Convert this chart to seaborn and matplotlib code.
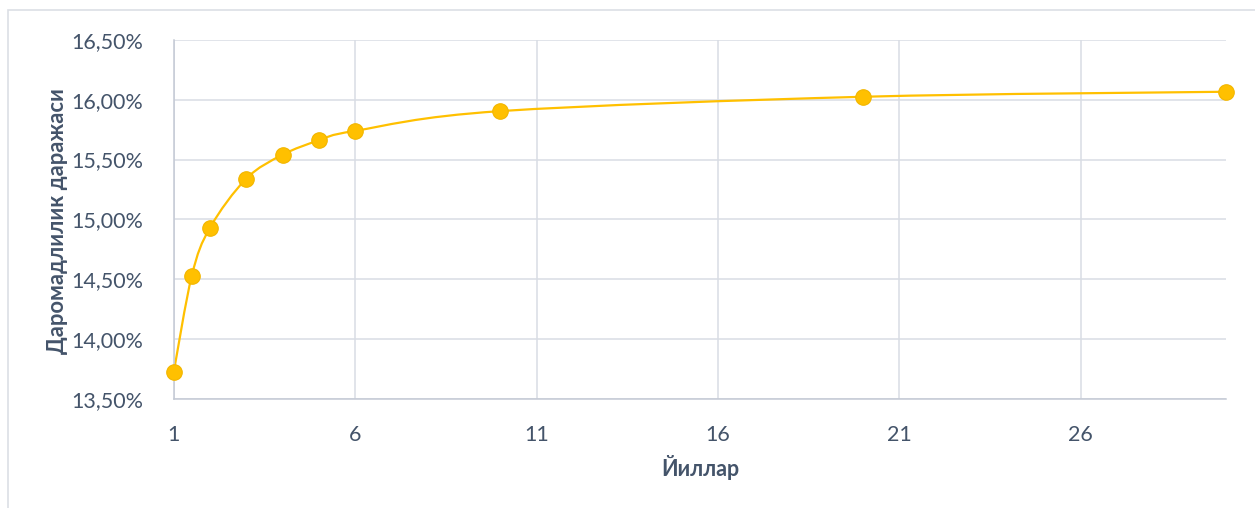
import numpy as np
import matplotlib
matplotlib.use('Agg')
import matplotlib.pyplot as plt
from matplotlib.path import Path
from matplotlib.patches import PathPatch, Rectangle
from matplotlib.ticker import FuncFormatter
import seaborn as sns

# data
years = [1, 1.5, 2, 3, 4, 5, 6, 10, 20, 30]
yield_pct = [13.72, 14.53, 14.93, 15.34, 15.54, 15.66, 15.74, 15.905, 16.025, 16.067]
x_ticks = [1, 6, 11, 16, 21, 26]
y_ticks = [13.5, 14.0, 14.5, 15.0, 15.5, 16.0, 16.5]

text_color = '#44546A'
line_color = '#FFC000'
grid_color = '#D9DDE4'


# Excel-like smoothed line: cubic bezier through the data points
def smooth_path(xs, ys):
    p = np.column_stack([xs, ys])
    n = len(p)
    verts = [p[0]]
    codes = [Path.MOVETO]
    for i in range(n - 1):
        prev = p[i - 1] if i > 0 else p[i]
        nxt = p[i + 2] if i + 2 < n else p[i + 1]
        c1 = p[i] + (p[i + 1] - prev) / 6
        c2 = p[i + 1] - (nxt - p[i]) / 6
        verts += [c1, c2, p[i + 1]]
        codes += [Path.CURVE4] * 3
    return Path(verts, codes)


def main():
    sns.set_theme(style='white')
    plt.rcParams['font.family'] = ['Lato', 'DejaVu Sans']

    fig = plt.figure(figsize=(12.55, 5.08), dpi=100)
    ax = fig.add_axes([0.1384, 0.2152, 0.8385, 0.7061])

    # chart area border
    fig.patches.append(Rectangle((8 / 1255, -0.1), 1.2, 1.1 - 10.5 / 508,
                                 transform=fig.transFigure, fill=False,
                                 edgecolor='#DCDFE5', linewidth=1.2))

    ax.add_patch(PathPatch(smooth_path(years, yield_pct), fill=False,
                           edgecolor=line_color, linewidth=1.6, zorder=2))
    sns.scatterplot(x=years, y=yield_pct, ax=ax, s=125, color=line_color,
                    edgecolor='#F2B600', linewidth=0.8, zorder=3, clip_on=False)

    ax.set_xlim(1, 30)
    ax.set_ylim(13.5, 16.5)
    ax.set_xticks(x_ticks)
    ax.set_yticks(y_ticks)
    ax.yaxis.set_major_formatter(FuncFormatter(lambda v, _: f"{v:.2f}".replace('.', ',') + '%'))

    ax.grid(True, color=grid_color, linewidth=1.1)
    ax.set_axisbelow(True)
    for s in ['top', 'right']:
        ax.spines[s].set_visible(False)
    for s in ['left', 'bottom']:
        ax.spines[s].set_color('#C3C9D4')
        ax.spines[s].set_linewidth(1.1)

    ax.tick_params(axis='both', length=0, labelsize=15.5, labelcolor=text_color)
    ax.tick_params(axis='x', pad=19)
    ax.tick_params(axis='y', pad=22)

    ax.set_xlabel('Йиллар', fontsize=15.5, fontweight='bold', color=text_color)
    ax.set_ylabel('Даромадлилик даражаси', fontsize=15.8, fontweight='bold', color=text_color)
    ax.xaxis.set_label_coords(0.5, -0.193)
    ax.xaxis.label.set_va('center')
    ax.yaxis.set_label_coords(-0.110, 0.495)
    ax.yaxis.label.set_va('center')

    fig.savefig('out.png', dpi=100)


if __name__ == '__main__':
    main()
